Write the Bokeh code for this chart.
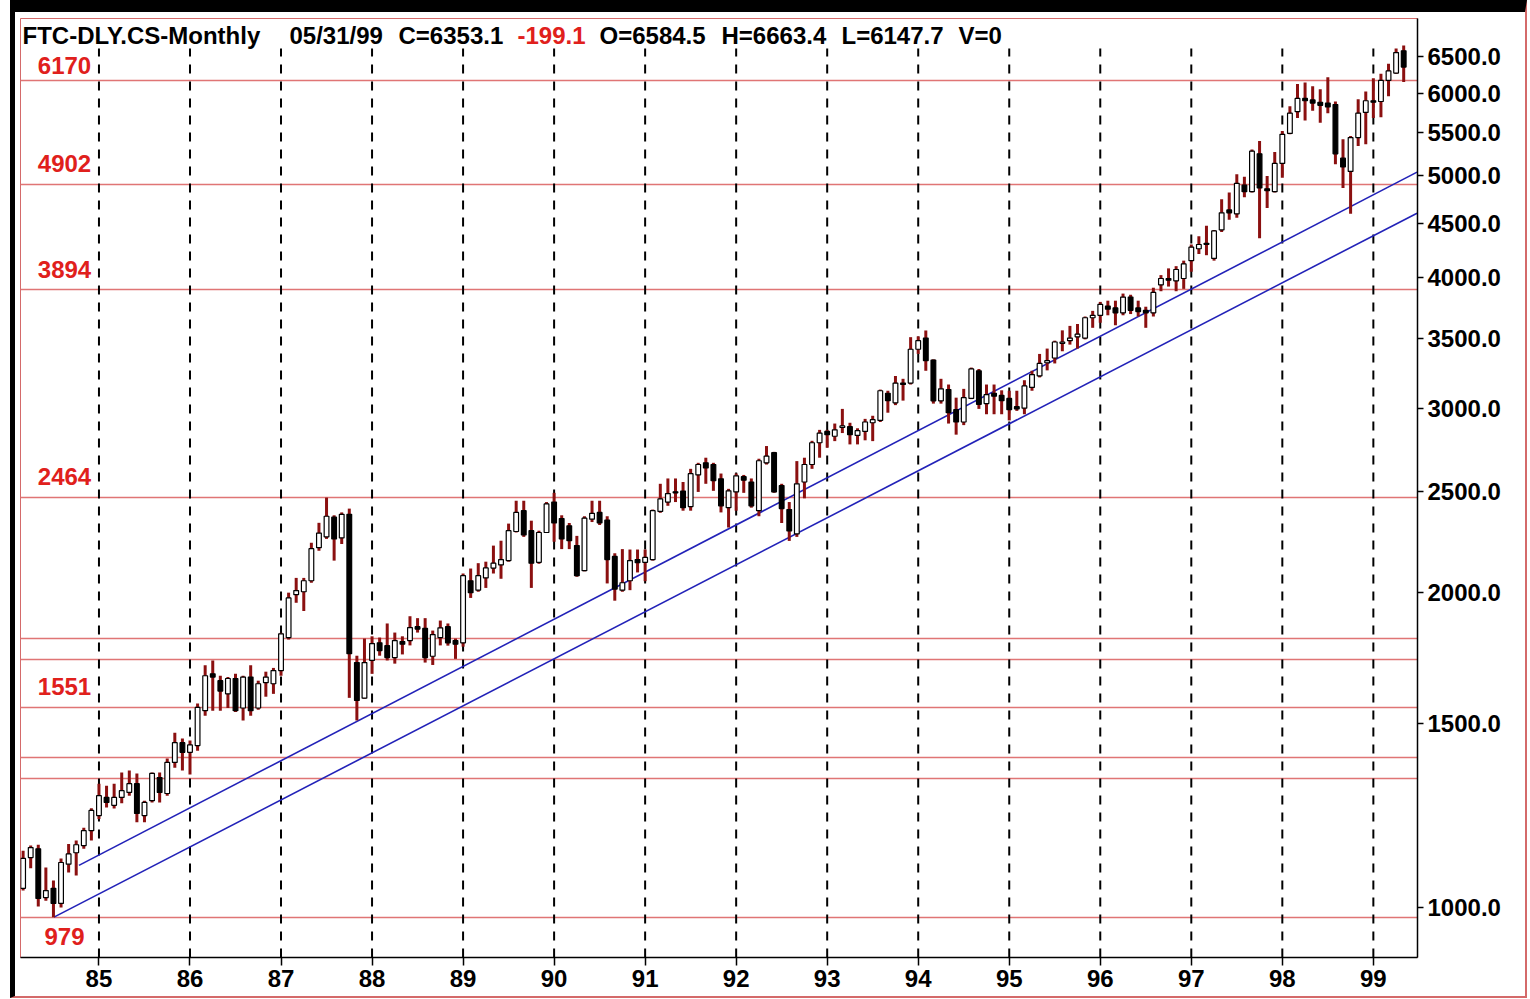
import pandas as pd
from bokeh.plotting import figure
from bokeh.models import ColumnDataSource, FixedTicker, PrintfTickFormatter, Label, Range1d
from bokeh.embed import file_html
from bokeh.resources import INLINE

# ---------------- data (monthly OHLC, Mar 1984 .. May 1999) ----------------
START_YEAR, START_MONTH = 1984, 3

OPEN = [
    1043, 1116, 1138, 1022, 1043, 1009, 1100, 1128, 1146, 1184,                 # 1984
    1224, 1274, 1252, 1274, 1288, 1313, 1224, 1265, 1331, 1285, 1376, 1437,     # 1985
    1407, 1428, 1542, 1672, 1647, 1600, 1655, 1551, 1660, 1551, 1640, 1636,     # 1986
    1684, 1811, 1990, 2003, 2052, 2207, 2260, 2360, 2255, 2375, 1714, 1585,     # 1987
    1722, 1790, 1779, 1733, 1795, 1799, 1855, 1848, 1738, 1811, 1855, 1799,     # 1988
    1790, 2052, 2010, 2065, 2110, 2125, 2145, 2287, 2394, 2291, 2137, 2282,     # 1989
    2440, 2353, 2316, 2217, 2098, 2350, 2385, 2345, 2165, 2010, 2052, 2150,     # 1990
    2137, 2150, 2390, 2440, 2496, 2500, 2416, 2590, 2660, 2650, 2568, 2410,     # 1991
    2495, 2580, 2550, 2394, 2660, 2720, 2530, 2400, 2275, 2550, 2650, 2780,     # 1992
    2850, 2820, 2875, 2880, 2825, 2850, 2905, 2920, 3100, 3035, 3170, 3170,     # 1993
    3415, 3500, 3335, 3049, 3125, 2990, 2910, 3065, 3257, 3030, 3100, 3085,     # 1994
    3065, 3010, 3000, 3140, 3220, 3315, 3350, 3460, 3480, 3510, 3500, 3660,     # 1995
    3680, 3755, 3740, 3700, 3830, 3740, 3720, 3700, 3935, 3990, 3970, 3990,     # 1996
    4150, 4260, 4310, 4170, 4440, 4640, 4600, 4900, 4830, 5250, 4860, 4830,     # 1997
    5140, 5490, 5760, 5930, 5910, 5880, 5870, 5850, 5200, 5050, 5440, 5750,     # 1998
    5900, 5890, 6170, 6270, 6584.5,                                             # 1999
]
HIGH = [
    1133, 1146, 1148, 1092, 1061, 1114, 1150, 1159, 1192, 1244,
    1313, 1307, 1313, 1346, 1352, 1343, 1265, 1346, 1346, 1388, 1469, 1450,
    1444, 1566, 1704, 1722, 1665, 1660, 1672, 1665, 1704, 1647, 1680, 1694,
    1830, 1999, 2065, 2065, 2231, 2331, 2464, 2370, 2385, 2405, 1740, 1807,
    1816, 1811, 1868, 1831, 1816, 1898, 1890, 1890, 1839, 1880, 1868, 1807,
    2085, 2108, 2133, 2140, 2217, 2241, 2327, 2447, 2447, 2342, 2291, 2440,
    2490, 2370, 2330, 2265, 2365, 2447, 2447, 2365, 2180, 2200, 2198, 2198,
    2198, 2400, 2540, 2570, 2570, 2550, 2625, 2660, 2690, 2660, 2598, 2512,
    2598, 2590, 2570, 2684, 2760, 2725, 2540, 2440, 2670, 2690, 2792, 2860,
    2860, 2900, 2995, 2905, 2870, 2930, 2950, 3125, 3117, 3220, 3200, 3507,
    3513, 3559, 3340, 3200, 3160, 3070, 3130, 3280, 3270, 3160, 3160, 3120,
    3117, 3117, 3190, 3257, 3380, 3420, 3480, 3560, 3595, 3610, 3670, 3716,
    3790, 3800, 3800, 3860, 3850, 3800, 3750, 3910, 4020, 4080, 4100, 4150,
    4300, 4380, 4480, 4440, 4750, 4820, 5020, 4990, 5300, 5400, 5000, 5270,
    5520, 5830, 6120, 6140, 6090, 6050, 6214, 5890, 5420, 5460, 5920, 6020,
    6200, 6260, 6400, 6620, 6663.4,
]
LOW = [
    1038, 1090, 1002, 1015, 979, 1000, 1080, 1073, 1138, 1159,
    1215, 1246, 1243, 1258, 1279, 1206, 1206, 1260, 1260, 1279, 1360, 1352,
    1340, 1412, 1525, 1542, 1542, 1551, 1537, 1509, 1525, 1545, 1590, 1600,
    1665, 1803, 1955, 1920, 2043, 2192, 2250, 2145, 2225, 1586, 1509, 1583,
    1672, 1740, 1722, 1710, 1745, 1780, 1831, 1714, 1705, 1780, 1779, 1728,
    1775, 1976, 2003, 2020, 2085, 2061, 2140, 2282, 2260, 2020, 2130, 2280,
    2236, 2200, 2200, 2070, 2095, 2335, 2320, 2040, 1964, 2003, 2010, 2090,
    2050, 2145, 2383, 2420, 2440, 2394, 2394, 2495, 2540, 2501, 2385, 2307,
    2394, 2490, 2410, 2365, 2650, 2490, 2330, 2240, 2260, 2460, 2625, 2690,
    2750, 2790, 2840, 2770, 2770, 2795, 2790, 2910, 2970, 3020, 3050, 3160,
    3380, 3257, 3030, 3030, 2900, 2830, 2890, 3060, 2995, 2960, 2960, 2960,
    2920, 2982, 2960, 3117, 3210, 3260, 3310, 3400, 3450, 3420, 3490, 3580,
    3620, 3680, 3600, 3680, 3690, 3670, 3580, 3670, 3880, 3920, 3880, 3900,
    4050, 4210, 4200, 4150, 4420, 4540, 4560, 4770, 4820, 4360, 4660, 4820,
    4980, 5480, 5680, 5650, 5770, 5620, 5740, 5130, 4870, 4600, 5340, 5360,
    5680, 5690, 5960, 6260, 6147.7,
]
CLOSE = [
    1114, 1141, 1020, 1038, 1009, 1104, 1125, 1148, 1184, 1238,
    1279, 1260, 1274, 1293, 1313, 1230, 1260, 1343, 1288, 1376, 1437, 1407,
    1430, 1553, 1665, 1660, 1610, 1655, 1542, 1660, 1542, 1636, 1660, 1684,
    1826, 1976, 2008, 2052, 2202, 2279, 2365, 2250, 2375, 1748, 1577, 1714,
    1787, 1760, 1733, 1799, 1785, 1851, 1845, 1733, 1823, 1850, 1790, 1785,
    2075, 1999, 2075, 2111, 2133, 2150, 2291, 2385, 2270, 2133, 2282, 2430,
    2330, 2250, 2241, 2075, 2355, 2380, 2330, 2150, 2015, 2043, 2145, 2135,
    2160, 2394, 2457, 2486, 2490, 2410, 2597, 2650, 2630, 2557, 2420, 2501,
    2585, 2560, 2420, 2672, 2700, 2495, 2405, 2290, 2540, 2650, 2780, 2840,
    2830, 2860, 2885, 2830, 2855, 2910, 2925, 3117, 3050, 3170, 3160, 3415,
    3480, 3330, 3049, 3130, 2970, 2910, 3070, 3270, 3025, 3090, 3080, 3050,
    2990, 2995, 3150, 3230, 3310, 3330, 3470, 3470, 3500, 3530, 3660, 3680,
    3770, 3730, 3700, 3830, 3720, 3710, 3700, 3870, 3990, 3975, 4070, 4120,
    4275, 4300, 4300, 4430, 4610, 4610, 4920, 4830, 5280, 4870, 4840, 5140,
    5480, 5740, 5930, 5900, 5870, 5840, 5820, 5250, 5100, 5440, 5740, 5900,
    5880, 6170, 6300, 6560, 6353.1,
]

LEVELS = [6170, 4902, 3894, 2464, 1807, 1725, 1551, 1390, 1327, 979]
LEVEL_LABELS = ["6170", "4902", "3894", "2464", "1551", "979"]
LEVEL_LABEL_VALUES = [6170, 4902, 3894, 2464, 1551, 979]

Y_TICKS = [1000, 1500, 2000, 2500, 3000, 3500, 4000, 4500, 5000, 5500, 6000, 6500]
YEAR_TICKS = list(range(1985, 2000))
YEAR_LABELS = ["85", "86", "87", "88", "89", "90", "91", "92", "93", "94",
               "95", "96", "97", "98", "99"]

TREND_LOWER_T = [1984.506, 1999.48]
TREND_LOWER_V = [979, 4607]
TREND_UPPER_T = [1984.78, 1999.48]
TREND_UPPER_V = [1097, 5042]

TITLE_TEXTS = ["FTC-DLY.CS-Monthly", "05/31/99", "C=6353.1", "-199.1",
               "O=6584.5", "H=6663.4", "L=6147.7", "V=0"]

# ---------------- styling / layout ----------------
X_START, X_END = 1984.138, 1999.485
Y_START, Y_END = 895.8, 7070.0
GRID_TOP = 6620.0
TITLE_X = [2, 269, 378, 497, 579, 701, 821, 938]
TITLE_COLORS = ["black", "black", "black", "#e0201c", "black", "black", "black", "black"]
LEVEL_OFFSETS = [15, 21, 20, 21, 21, -19]

WICK = "#8b1010"
HLINE = "#e07575"
BLUE = "#2222b8"
RED_TXT = "#e0201c"
FONT = "Liberation Sans"

n = len(CLOSE)
months = pd.date_range(f"{START_YEAR}-{START_MONTH:02d}-01", periods=n, freq="MS")
t = list(months.year + (months.month - 1) / 12.0)

df = pd.DataFrame({"t": t, "open": OPEN, "high": HIGH, "low": LOW, "close": CLOSE})
df["top"] = df[["open", "close"]].max(axis=1)
df["bottom"] = df[["open", "close"]].min(axis=1)
up = df[df["close"] >= df["open"]]
dn = df[df["close"] < df["open"]]

# the host box is border-box: borders clip the canvas, so the canvas keeps the full size
p = figure(width=1517, height=998,
           x_range=Range1d(X_START, X_END), y_range=Range1d(Y_START, Y_END),
           y_axis_type="log", y_axis_location="right",
           output_backend="svg", toolbar_location=None,
           min_border_left=5, min_border_right=115, min_border_top=6, min_border_bottom=53,
           background_fill_color="white", border_fill_color="white",
           styles={"border-top": "12px solid black", "border-left": "5px solid black",
                   "border-right": "2px solid #d46a6a", "border-bottom": "2px solid #d46a6a",
                   "margin-left": "10px"})
p.grid.visible = False
p.outline_line_color = "#d46a6a"
p.outline_line_width = 1

# axes
ya = p.yaxis[0]
ya.ticker = FixedTicker(ticks=Y_TICKS)
ya.formatter = PrintfTickFormatter(format="%.1f")
xa = p.xaxis[0]
xa.ticker = FixedTicker(ticks=YEAR_TICKS)
xa.major_label_overrides = {yr: lab for yr, lab in zip(YEAR_TICKS, YEAR_LABELS)}
for ax in (ya, xa):
    ax.axis_line_color = "black"
    ax.axis_line_width = 1.5
    ax.major_tick_line_color = "black"
    ax.major_tick_line_width = 1.5
    ax.major_tick_in = 0
    ax.minor_tick_in = 0
    ax.minor_tick_out = 0
    ax.major_label_text_font = FONT
    ax.major_label_text_font_style = "bold"
    ax.major_label_text_font_size = "24px"
    ax.major_label_text_color = "black"
ya.major_tick_out = 6
ya.major_label_standoff = 4
xa.major_tick_out = 8
xa.major_label_standoff = 4

# horizontal red levels
p.hspan(y=LEVELS, line_color=HLINE, line_width=1.5)

# dashed yearly grid
ny = len(YEAR_TICKS)
p.segment(x0=YEAR_TICKS, y0=[Y_START] * ny, x1=YEAR_TICKS, y1=[GRID_TOP] * ny,
          line_color="black", line_width=2, line_dash="9 8")

# trend channel
p.line(TREND_LOWER_T, TREND_LOWER_V, line_color=BLUE, line_width=1.6)
p.line(TREND_UPPER_T, TREND_UPPER_V, line_color=BLUE, line_width=1.6)

# candles
src = ColumnDataSource(df)
p.segment(x0="t", y0="high", x1="t", y1="low", source=src, line_color=WICK, line_width=3)
p.vbar(x="t", width=0.052, top="top", bottom="bottom", source=ColumnDataSource(up),
       fill_color="white", line_color="black", line_width=1.2)
p.vbar(x="t", width=0.052, top="top", bottom="bottom", source=ColumnDataSource(dn),
       fill_color="black", line_color="black", line_width=1.2)

# header text
for txt, sx, col in zip(TITLE_TEXTS, TITLE_X, TITLE_COLORS):
    p.add_layout(Label(x=sx, y=922, x_units="screen", y_units="screen", text=txt,
                       text_font=FONT, text_font_style="bold", text_font_size="24px",
                       text_color=col, text_baseline="middle", text_align="left"))

# level labels
for txt, lv, off in zip(LEVEL_LABELS, LEVEL_LABEL_VALUES, LEVEL_OFFSETS):
    p.add_layout(Label(x=44, x_units="screen", y=lv, y_units="data", y_offset=off,
                       text=txt, text_font=FONT, text_font_style="bold",
                       text_font_size="24px", text_color=RED_TXT,
                       text_align="center", text_baseline="middle"))

open("out.html", "w").write(file_html(p, INLINE, title="FTC-DLY.CS-Monthly"))
